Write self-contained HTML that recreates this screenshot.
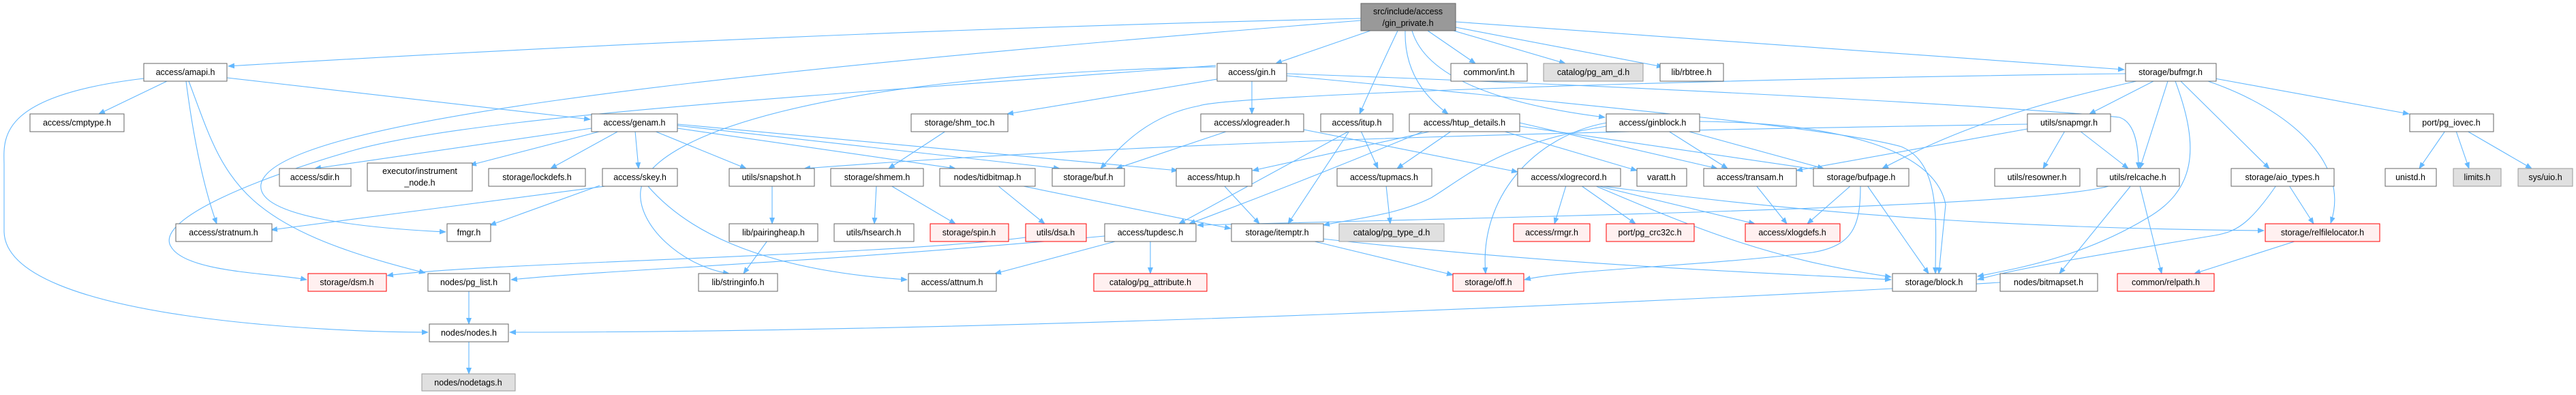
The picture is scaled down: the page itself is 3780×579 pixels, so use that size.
<!DOCTYPE html>
<html><head><meta charset="utf-8"><style>
html,body{margin:0;padding:0;background:#fff;}
svg{display:block;}
text{font-family:"Liberation Sans",sans-serif;font-size:12.5px;fill:#000;text-anchor:middle;}
.n{fill:#fff;stroke:#666;stroke-width:1;}
.r{fill:#fff0f0;stroke:#ff0000;stroke-width:1;}
.g{fill:#e0e0e0;stroke:#999;stroke-width:1;}
.root{fill:#999;stroke:#666;stroke-width:1;}
path.e{fill:none;stroke:#63b8ff;stroke-width:1.1;}
</style></head><body>
<svg width="3780" height="579" viewBox="0 0 3780 579" xmlns="http://www.w3.org/2000/svg">
<defs><marker id="a" markerWidth="10" markerHeight="8" refX="9" refY="4" orient="auto" markerUnits="userSpaceOnUse"><path d="M0,0 L10,4 L0,8 z" fill="#63b8ff"/></marker></defs>
<g marker-end="url(#a)">
<path class="e" d="M1997,27 Q1200,45 335,97"/>
<path class="e" d="M1997,30 C1000,110 400,180 383,270 C375,320 550,335 654,340"/>
<path class="e" d="M2011,45 L1872,93"/>
<path class="e" d="M2051,45 Q2020,110 1995,167"/>
<path class="e" d="M2062,45 Q2060,120 2125,167"/>
<path class="e" d="M2072,45 Q2100,140 2355,172"/>
<path class="e" d="M2095,45 L2165,93"/>
<path class="e" d="M2133,45 L2297,93"/>
<path class="e" d="M2136,40 L2440,98"/>
<path class="e" d="M2136,32 L3117,102"/>
<path class="e" d="M245,119 L145,167"/>
<path class="e" d="M333,114 L866,175"/>
<path class="e" d="M273,119 Q290,250 318,328"/>
<path class="e" d="M277,119 C330,260 340,330 624,400"/>
<path class="e" d="M211,115 C0,140 5,200 6,240 L6,340 C10,470 500,487 628,487"/>
<path class="e" d="M1784,96 C1200,140 700,170 520,220 C380,260 230,320 250,360 C270,400 400,400 450,410"/>
<path class="e" d="M1784,98 C1200,110 950,200 940,280 C935,330 1000,390 1070,401"/>
<path class="e" d="M1786,116 L1478,167"/>
<path class="e" d="M1837,119 L1837,167"/>
<path class="e" d="M1888,108 C2500,130 3000,160 3110,172 C3135,180 3138,220 3138,247"/>
<path class="e" d="M1888,111 C2400,160 2700,190 2790,215 C2850,240 2840,330 2840,401"/>
<path class="e" d="M868,188 L462,247"/>
<path class="e" d="M883,192 L690,242"/>
<path class="e" d="M908,192 L808,247"/>
<path class="e" d="M932,192 L937,247"/>
<path class="e" d="M960,192 L1095,247"/>
<path class="e" d="M994,188 L1402,247"/>
<path class="e" d="M994,184 L1555,247"/>
<path class="e" d="M994,182 L1728,250"/>
<path class="e" d="M895,272 L398,337"/>
<path class="e" d="M880,272 L719,330"/>
<path class="e" d="M950,272 C1000,330 1100,395 1331,410"/>
<path class="e" d="M1133,272 L1133,328"/>
<path class="e" d="M1126,353 L1091,401"/>
<path class="e" d="M1388,192 L1304,247"/>
<path class="e" d="M1286,272 L1283,328"/>
<path class="e" d="M1307,272 L1402,328"/>
<path class="e" d="M1464,272 L1533,328"/>
<path class="e" d="M1497,272 L1806,335"/>
<path class="e" d="M1505,348 C1300,375 700,385 568,404"/>
<path class="e" d="M1621,346 C1200,385 900,395 750,410"/>
<path class="e" d="M1640,353 L1460,401"/>
<path class="e" d="M1688,353 L1688,401"/>
<path class="e" d="M1796,272 L1848,328"/>
<path class="e" d="M1802,192 L1638,247"/>
<path class="e" d="M1913,190 L2227,252"/>
<path class="e" d="M1980,192 L1730,328"/>
<path class="e" d="M1997,192 L2022,247"/>
<path class="e" d="M1980,192 L1890,328"/>
<path class="e" d="M2102,192 L1838,250"/>
<path class="e" d="M2090,192 C1950,250 1820,300 1745,328"/>
<path class="e" d="M2130,192 L2050,247"/>
<path class="e" d="M2205,192 L2402,250"/>
<path class="e" d="M2230,180 L2520,247"/>
<path class="e" d="M2230,185 L2676,250"/>
<path class="e" d="M2448,192 L2535,247"/>
<path class="e" d="M2475,192 L2676,247"/>
<path class="e" d="M2357,185 C2200,210 2150,260 2100,290 C2050,315 1990,320 1942,330"/>
<path class="e" d="M2357,180 C2250,200 2170,290 2180,401"/>
<path class="e" d="M2494,178 C2700,180 2840,220 2855,300 L2845,401"/>
<path class="e" d="M2034,272 L2040,328"/>
<path class="e" d="M2298,272 L2281,328"/>
<path class="e" d="M2320,272 L2400,328"/>
<path class="e" d="M2342,272 L2575,328"/>
<path class="e" d="M2345,272 C2700,320 3000,335 3322,338"/>
<path class="e" d="M2340,272 C2500,340 2600,380 2775,406"/>
<path class="e" d="M2577,272 L2622,328"/>
<path class="e" d="M2716,272 L2652,328"/>
<path class="e" d="M2740,272 L2830,401"/>
<path class="e" d="M2730,272 C2730,330 2720,360 2660,370 C2500,390 2300,395 2237,410"/>
<path class="e" d="M1940,350 C2300,390 2600,400 2775,410"/>
<path class="e" d="M1925,353 L2132,403"/>
<path class="e" d="M3160,119 L3066,167"/>
<path class="e" d="M3135,119 C2950,160 2850,200 2762,247"/>
<path class="e" d="M3181,119 L3140,247"/>
<path class="e" d="M3192,119 C3230,220 3220,280 3150,320 C3050,380 2950,395 2902,405"/>
<path class="e" d="M3200,119 L3330,247"/>
<path class="e" d="M3240,119 C3360,160 3450,240 3420,327"/>
<path class="e" d="M3250,115 L3535,167"/>
<path class="e" d="M3119,108 C2500,115 1800,140 1760,155 C1680,170 1640,220 1615,247"/>
<path class="e" d="M3030,192 L2998,247"/>
<path class="e" d="M3052,192 L3123,247"/>
<path class="e" d="M2975,182 C2500,190 1800,200 1180,247"/>
<path class="e" d="M2975,189 L2636,250"/>
<path class="e" d="M3098,272 C3000,300 2500,312 1757,330"/>
<path class="e" d="M3127,272 L3022,401"/>
<path class="e" d="M3140,272 L3172,401"/>
<path class="e" d="M3359,272 L3395,328"/>
<path class="e" d="M3340,272 C3300,330 3280,340 3250,345 C3100,370 2950,395 2902,410"/>
<path class="e" d="M3370,353 L3220,401"/>
<path class="e" d="M3588,192 L3550,247"/>
<path class="e" d="M3604,192 L3623,247"/>
<path class="e" d="M3620,192 L3715,247"/>
<path class="e" d="M2935,414 C2500,440 1500,487 748,487"/>
<path class="e" d="M688,427 L688,475"/>
<path class="e" d="M688,500 L688,548"/>
</g>
<!-- nodes -->
<rect class="root" x="1997" y="5" width="139" height="40"/><text x="2066" y="21">src/include/access</text><text x="2066" y="38">/gin_private.h</text>
<rect class="n" x="211" y="93" width="122" height="26"/><text x="272" y="110">access/amapi.h</text>
<rect class="n" x="1786" y="93" width="102" height="26"/><text x="1837" y="110">access/gin.h</text>
<rect class="n" x="2129" y="93" width="112" height="26"/><text x="2185" y="110">common/int.h</text>
<rect class="g" x="2265" y="93" width="146" height="26"/><text x="2338" y="110">catalog/pg_am_d.h</text>
<rect class="n" x="2436" y="93" width="93" height="26"/><text x="2482" y="110">lib/rbtree.h</text>
<rect class="n" x="3119" y="93" width="133" height="26"/><text x="3185" y="110">storage/bufmgr.h</text>
<rect class="n" x="44" y="167" width="138" height="26"/><text x="113" y="184">access/cmptype.h</text>
<rect class="n" x="868" y="167" width="126" height="26"/><text x="931" y="184">access/genam.h</text>
<rect class="n" x="1337" y="167" width="142" height="26"/><text x="1408" y="184">storage/shm_toc.h</text>
<rect class="n" x="1762" y="167" width="151" height="26"/><text x="1837" y="184">access/xlogreader.h</text>
<rect class="n" x="1938" y="167" width="106" height="26"/><text x="1991" y="184">access/itup.h</text>
<rect class="n" x="2068" y="167" width="162" height="26"/><text x="2149" y="184">access/htup_details.h</text>
<rect class="n" x="2357" y="167" width="137" height="26"/><text x="2425" y="184">access/ginblock.h</text>
<rect class="n" x="2975" y="167" width="122" height="26"/><text x="3036" y="184">utils/snapmgr.h</text>
<rect class="n" x="3536" y="167" width="123" height="26"/><text x="3597" y="184">port/pg_iovec.h</text>
<rect class="n" x="410" y="247" width="105" height="26"/><text x="462" y="264">access/sdir.h</text>
<rect class="n" x="539" y="239" width="154" height="41"/><text x="616" y="255">executor/instrument</text><text x="616" y="272">_node.h</text>
<rect class="n" x="717" y="247" width="142" height="26"/><text x="788" y="264">storage/lockdefs.h</text>
<rect class="n" x="884" y="247" width="110" height="26"/><text x="939" y="264">access/skey.h</text>
<rect class="n" x="1070" y="247" width="125" height="26"/><text x="1132" y="264">utils/snapshot.h</text>
<rect class="n" x="1219" y="247" width="136" height="26"/><text x="1287" y="264">storage/shmem.h</text>
<rect class="n" x="1379" y="247" width="140" height="26"/><text x="1449" y="264">nodes/tidbitmap.h</text>
<rect class="n" x="1544" y="247" width="106" height="26"/><text x="1597" y="264">storage/buf.h</text>
<rect class="n" x="1726" y="247" width="111" height="26"/><text x="1781" y="264">access/htup.h</text>
<rect class="n" x="1962" y="247" width="139" height="26"/><text x="2031" y="264">access/tupmacs.h</text>
<rect class="n" x="2227" y="247" width="151" height="26"/><text x="2302" y="264">access/xlogrecord.h</text>
<rect class="n" x="2402" y="247" width="73" height="26"/><text x="2438" y="264">varatt.h</text>
<rect class="n" x="2500" y="247" width="136" height="26"/><text x="2568" y="264">access/transam.h</text>
<rect class="n" x="2661" y="247" width="140" height="26"/><text x="2731" y="264">storage/bufpage.h</text>
<rect class="n" x="2927" y="247" width="125" height="26"/><text x="2989" y="264">utils/resowner.h</text>
<rect class="n" x="3077" y="247" width="121" height="26"/><text x="3137" y="264">utils/relcache.h</text>
<rect class="n" x="3274" y="247" width="151" height="26"/><text x="3349" y="264">storage/aio_types.h</text>
<rect class="n" x="3500" y="247" width="75" height="26"/><text x="3537" y="264">unistd.h</text>
<rect class="g" x="3600" y="247" width="70" height="26"/><text x="3635" y="264">limits.h</text>
<rect class="g" x="3695" y="247" width="80" height="26"/><text x="3735" y="264">sys/uio.h</text>
<rect class="n" x="258" y="328" width="141" height="26"/><text x="328" y="345">access/stratnum.h</text>
<rect class="n" x="656" y="328" width="64" height="26"/><text x="688" y="345">fmgr.h</text>
<rect class="n" x="1070" y="328" width="130" height="26"/><text x="1135" y="345">lib/pairingheap.h</text>
<rect class="n" x="1224" y="328" width="117" height="26"/><text x="1282" y="345">utils/hsearch.h</text>
<rect class="r" x="1365" y="328" width="115" height="26"/><text x="1422" y="345">storage/spin.h</text>
<rect class="r" x="1505" y="328" width="89" height="26"/><text x="1549" y="345">utils/dsa.h</text>
<rect class="n" x="1621" y="328" width="134" height="26"/><text x="1688" y="345">access/tupdesc.h</text>
<rect class="n" x="1807" y="328" width="135" height="26"/><text x="1874" y="345">storage/itemptr.h</text>
<rect class="g" x="1965" y="328" width="154" height="26"/><text x="2042" y="345">catalog/pg_type_d.h</text>
<rect class="r" x="2221" y="328" width="112" height="26"/><text x="2277" y="345">access/rmgr.h</text>
<rect class="r" x="2357" y="328" width="129" height="26"/><text x="2421" y="345">port/pg_crc32c.h</text>
<rect class="r" x="2561" y="328" width="139" height="26"/><text x="2630" y="345">access/xlogdefs.h</text>
<rect class="r" x="3324" y="328" width="168" height="26"/><text x="3408" y="345">storage/relfilelocator.h</text>
<rect class="r" x="452" y="401" width="115" height="26"/><text x="509" y="418">storage/dsm.h</text>
<rect class="n" x="628" y="401" width="120" height="26"/><text x="688" y="418">nodes/pg_list.h</text>
<rect class="n" x="1025" y="401" width="116" height="26"/><text x="1083" y="418">lib/stringinfo.h</text>
<rect class="n" x="1333" y="401" width="129" height="26"/><text x="1397" y="418">access/attnum.h</text>
<rect class="r" x="1605" y="401" width="166" height="26"/><text x="1688" y="418">catalog/pg_attribute.h</text>
<rect class="r" x="2132" y="401" width="104" height="26"/><text x="2184" y="418">storage/off.h</text>
<rect class="n" x="2777" y="401" width="123" height="26"/><text x="2838" y="418">storage/block.h</text>
<rect class="n" x="2935" y="401" width="143" height="26"/><text x="3006" y="418">nodes/bitmapset.h</text>
<rect class="r" x="3107" y="401" width="142" height="26"/><text x="3178" y="418">common/relpath.h</text>
<rect class="n" x="630" y="475" width="116" height="26"/><text x="688" y="492">nodes/nodes.h</text>
<rect class="g" x="619" y="548" width="137" height="25"/><text x="687" y="565">nodes/nodetags.h</text>
</svg>
</body></html>
